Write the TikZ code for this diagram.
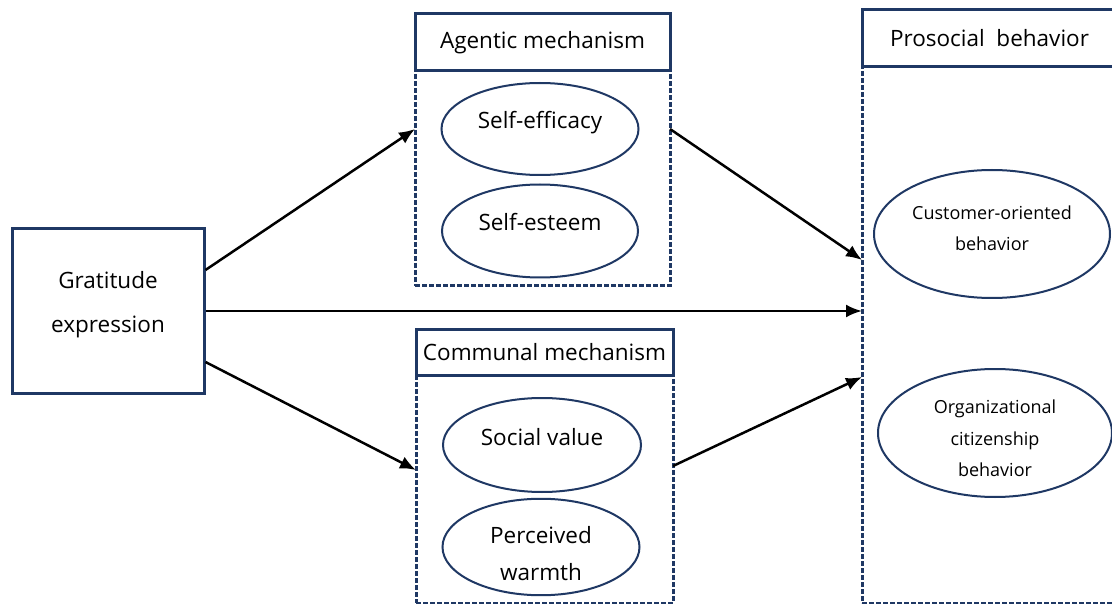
\documentclass[tikz,border=0pt]{standalone}
\usepackage{fontspec}
\setmainfont{Open Sans}
\usepackage{tikz}
\usetikzlibrary{shapes,arrows.meta,positioning}
\definecolor{navy}{RGB}{31,56,100}
\tikzstyle{header} = [rectangle, draw=navy, line width=3pt, fill=white, text=black, text centered, outer sep=0pt, font=\fontsize{22.5}{27}\selectfont]
\tikzstyle{groupbox} = [rectangle, draw=navy, line width=3pt, dash pattern=on 5pt off 2pt, outer sep=0pt]
\tikzstyle{factor} = [ellipse, draw=navy, line width=2pt, text=black, align=center, inner sep=0pt, font=\fontsize{22.5}{37}\selectfont]
\tikzstyle{oneline} = [factor, text height=15pt, text depth=15pt]
\tikzstyle{smallfactor} = [factor, font=\fontsize{18}{31.5}\selectfont]
\tikzstyle{gratbox} = [rectangle, draw=navy, line width=3pt, text=black, align=center, minimum width=192pt, minimum height=164pt, font=\fontsize{22.5}{44}\selectfont]
\tikzstyle{tedge}  = [draw, line width=2.5pt, -{Latex[length=16pt,width=13pt]}]

\begin{document}
\begin{tikzpicture}[x=1pt, y=-1pt]
\clip (0,0) rectangle (1112,604);
\fill[white] (0,0) rectangle (1112,604);

% predictor =============================
\node[gratbox, text depth=17.5pt] (gratitude) at (108,311) {Gratitude\\expression};

% agentic mechanism
\node[groupbox, minimum width=255pt, minimum height=215pt] (agenticbody) at (542.5,178.5) {};
\node[header, minimum width=255pt, minimum height=57pt, above=0pt of agenticbody] (agentic) {Agentic mechanism};
\node[oneline, minimum width=197pt, minimum height=92pt] (efficacy) at (540,129) {Self-efficacy};
\node[oneline, minimum width=196pt, minimum height=93pt] (esteem) at (540,231) {Self-esteem};

% communal mechanism
\node[groupbox, minimum width=257pt, minimum height=228pt] (communalbody) at (544.5,489) {};
\node[header, minimum width=257pt, minimum height=45pt, above=0pt of communalbody] (communal) {Communal mechanism};
\node[oneline, minimum width=198pt, minimum height=94pt] (social) at (542,445) {Social value};
\node[factor, text height=68pt, minimum width=197pt, minimum height=90pt] (warmth) at (541,547) {Perceived\\warmth};

% outcome
\node[groupbox, minimum width=255pt, minimum height=536pt] (prosocialbody) at (989.5,335) {};
\node[header, minimum width=255pt, minimum height=57pt, above=0pt of prosocialbody] (prosocial) {Prosocial~~behavior};
\node[smallfactor, text depth=12pt, minimum width=236pt, minimum height=128pt] (customer) at (992,234) {Customer-oriented\\behavior};
\node[smallfactor, text height=87.5pt, minimum width=234pt, minimum height=128pt] (citizenship) at (995,433) {Organizational\\citizenship\\behavior};

% edges
\path[tedge] ([yshift=41pt]gratitude.east) -- (agenticbody.west |- efficacy);
\path[tedge] (gratitude.east) -- (gratitude.east -| prosocialbody.west);
\path[tedge] ([yshift=-51pt]gratitude.east) -- ([yshift=19pt]communalbody.west);
\path[tedge] (agenticbody.east |- efficacy) -- ([yshift=75pt]prosocialbody.west);
\path[tedge] ([yshift=23pt]communalbody.east) -- ([yshift=-42pt]prosocialbody.west);

\end{tikzpicture}
\end{document}
